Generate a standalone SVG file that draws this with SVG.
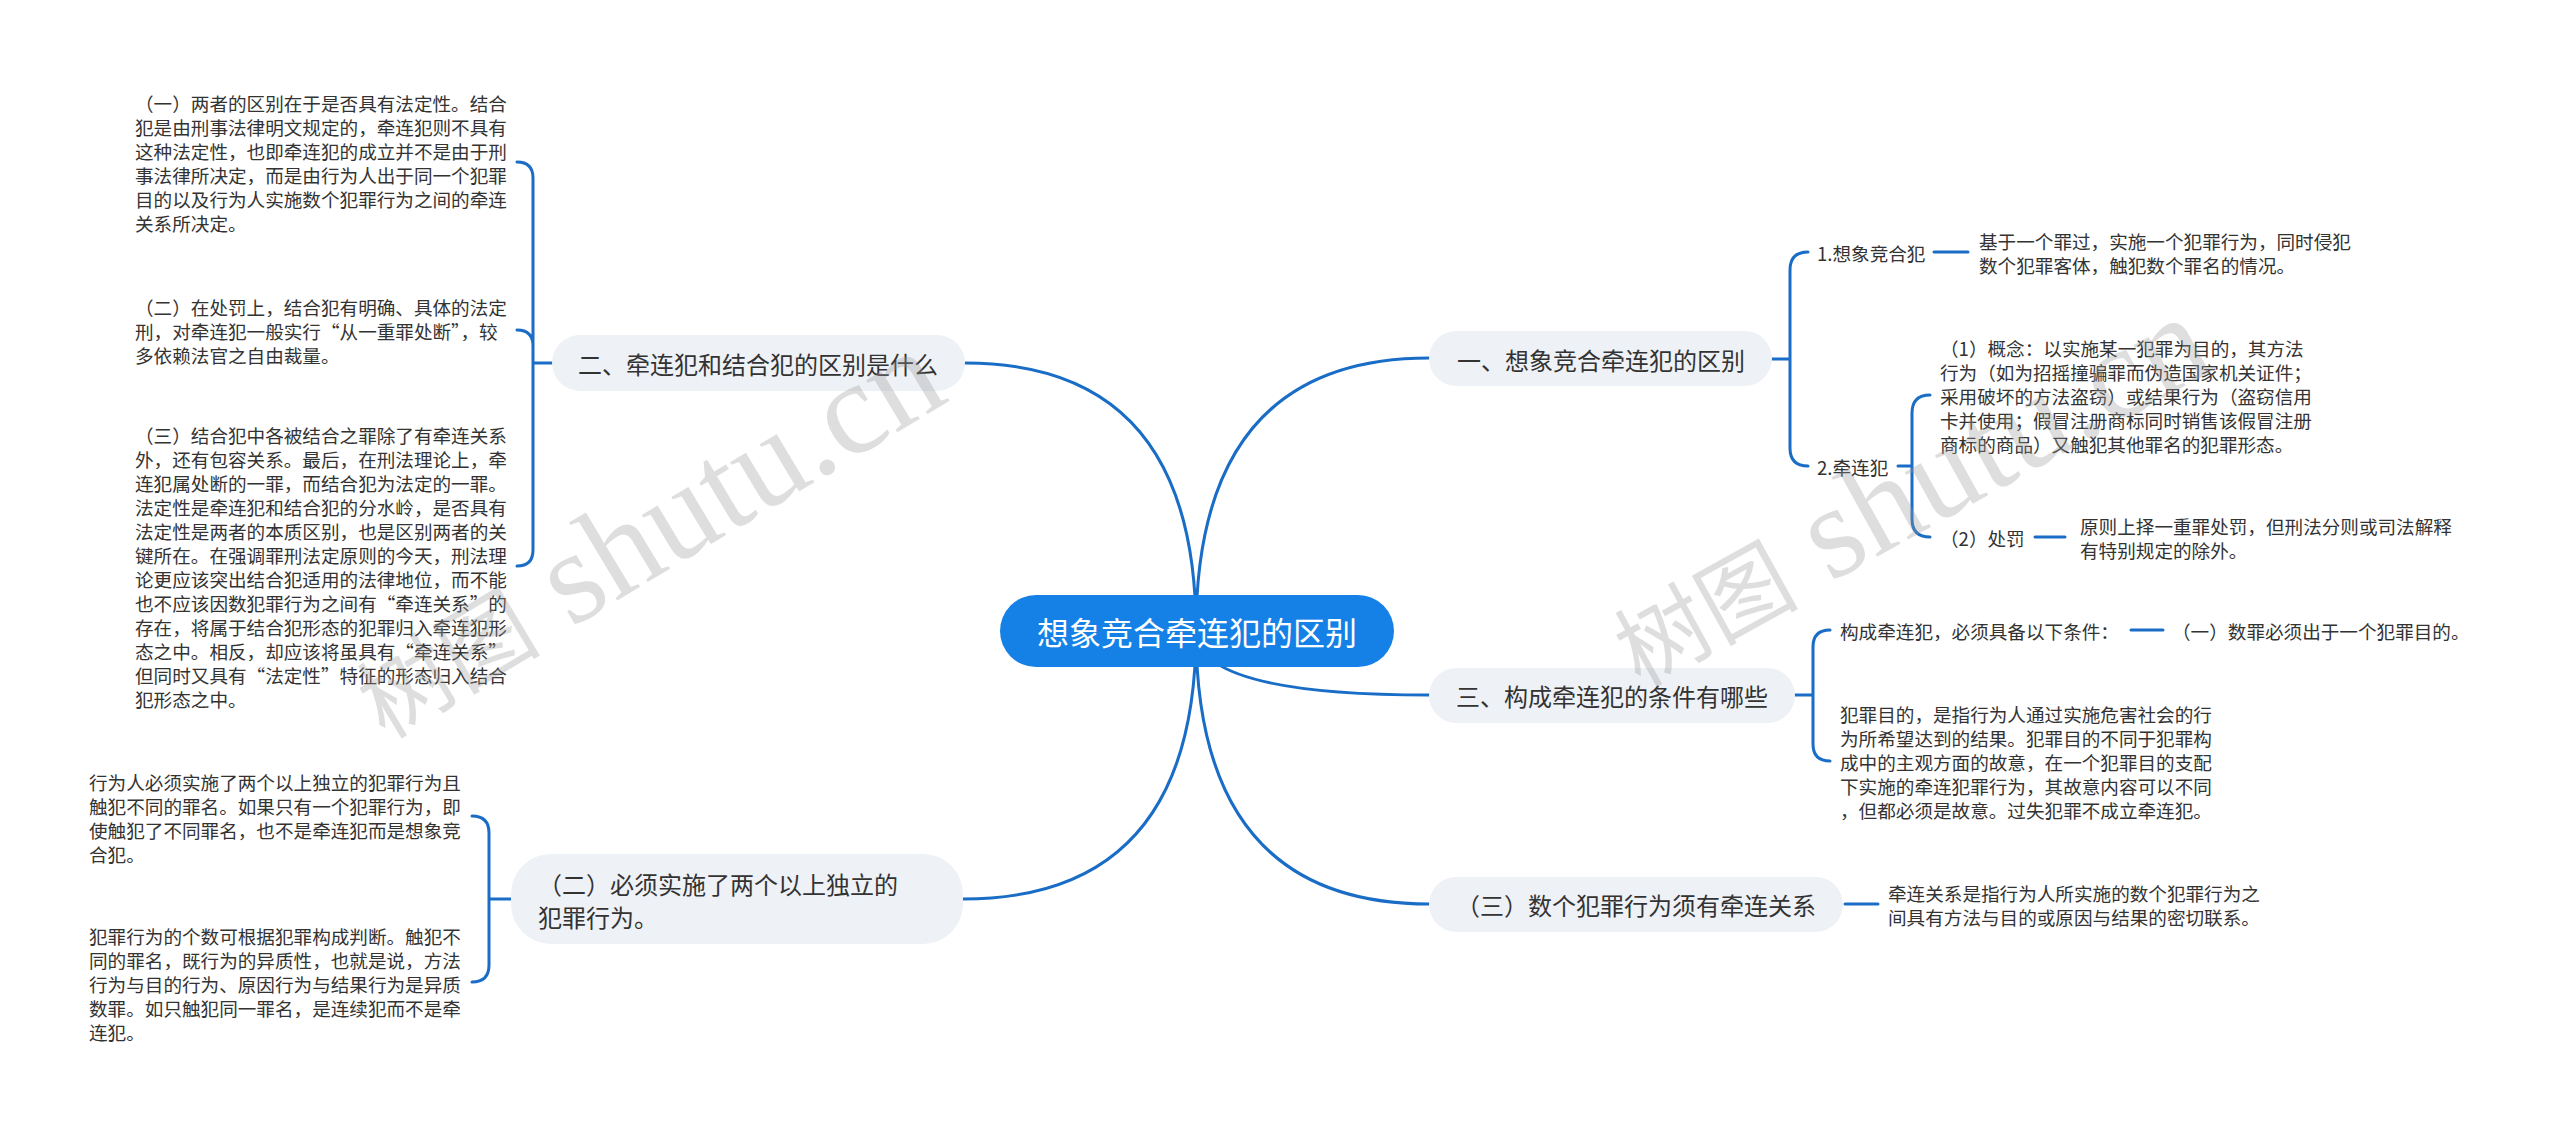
<svg xmlns="http://www.w3.org/2000/svg" width="2560" height="1131" viewBox="0 0 2560 1131">
<style>
.t{font-family:"Noto Sans CJK SC","Noto Sans",sans-serif;fill:#333;dominant-baseline:central;}
.leaf{font-size:18.6px;}
.br{font-size:24px;}
.root{font-size:32px;fill:#fff;}
.bx{fill:#eef1f5;}
.ln{fill:none;stroke:#1a6dc6;stroke-width:3;stroke-linecap:round;}
.wm{font-family:"Liberation Serif","Noto Sans CJK SC",serif;font-size:132px;fill:#999;fill-opacity:.32;}
.wc{font-family:"Noto Sans CJK SC",sans-serif;font-size:92px;}
</style>
<rect width="2560" height="1131" fill="#fff"/>
<g id="connectors">
<path class="ln" d="M1196 631 Q1196 358 1429 358"/>
<path class="ln" d="M1196 631 Q1196 363 965 363"/>
<path class="ln" d="M1196 631 Q1196 695 1429 695"/>
<path class="ln" d="M1196 631 Q1196 904 1429 904"/>
<path class="ln" d="M1196 631 Q1196 899 963 899"/>
<path class="ln" d="M1772 359 L1790 359 M1808 252 Q1790 252 1790 270 L1790 448 Q1790 466 1808 466"/>
<path class="ln" d="M1934 252 L1968 252"/>
<path class="ln" d="M1898 466 L1912 466 M1930 395 Q1912 395 1912 413 L1912 519 Q1912 537 1930 537"/>
<path class="ln" d="M2035 537 L2065 537"/>
<path class="ln" d="M1795 695 L1813 695 M1830 630 Q1813 630 1813 647 L1813 744 Q1813 761 1830 761"/>
<path class="ln" d="M2131 630 L2163 630"/>
<path class="ln" d="M1845 904 L1878 904"/>
<path class="ln" d="M552 363 L533 363 M517 162 Q533 162 533 178 L533 550 Q533 566 517 566 M517 330 Q533 330 533 346"/>
<path class="ln" d="M511 899 L489 899 M472 816 Q489 816 489 833 L489 965 Q489 982 472 982"/>
</g>
<g id="root">
<rect x="1000" y="595" width="394" height="72" rx="36" fill="#1581e6"/>
<text class="t root" x="1197" y="631" text-anchor="middle">想象竞合牵连犯的区别</text>
</g>
<g id="b1">
<rect class="bx" x="1429" y="331" width="343" height="55" rx="27.5"/>
<text class="t br" x="1457" y="359">一、想象竞合牵连犯的区别</text>
</g>
<g id="b2">
<rect class="bx" x="552" y="335" width="413" height="56" rx="28"/>
<text class="t br" x="578" y="363">二、牵连犯和结合犯的区别是什么</text>
</g>
<g id="b3">
<rect class="bx" x="1429" y="668" width="366" height="55" rx="27.5"/>
<text class="t br" x="1456" y="695.5">三、构成牵连犯的条件有哪些</text>
</g>
<g id="b4">
<rect class="bx" x="1429" y="877" width="414" height="55" rx="27.5"/>
<text class="t br" x="1456" y="904">（三）数个犯罪行为须有牵连关系</text>
</g>
<g id="b5">
<rect class="bx" x="511" y="854" width="452" height="90" rx="40"/>
<text class="t br" x="538"><tspan x="538" y="882.5">（二）必须实施了两个以上独立的</tspan><tspan x="538" y="915.5">犯罪行为。</tspan></text>
</g>
<g id="l1">
<text class="t leaf"><tspan x="135" y="102">（一）两者的区别在于是否具有法定性。结合</tspan><tspan x="135" y="126">犯是由刑事法律明文规定的，牵连犯则不具有</tspan><tspan x="135" y="150">这种法定性，也即牵连犯的成立并不是由于刑</tspan><tspan x="135" y="174">事法律所决定，而是由行为人出于同一个犯罪</tspan><tspan x="135" y="198">目的以及行为人实施数个犯罪行为之间的牵连</tspan><tspan x="135" y="222">关系所决定。</tspan></text>
</g>
<g id="l2">
<text class="t leaf"><tspan x="135" y="306">（二）在处罚上，结合犯有明确、具体的法定</tspan><tspan x="135" y="330">刑，对牵连犯一般实行“从一重罪处断”，较</tspan><tspan x="135" y="354">多依赖法官之自由裁量。</tspan></text>
</g>
<g id="l3">
<text class="t leaf"><tspan x="135" y="434">（三）结合犯中各被结合之罪除了有牵连关系</tspan><tspan x="135" y="458">外，还有包容关系。最后，在刑法理论上，牵</tspan><tspan x="135" y="482">连犯属处断的一罪，而结合犯为法定的一罪。</tspan><tspan x="135" y="506">法定性是牵连犯和结合犯的分水岭，是否具有</tspan><tspan x="135" y="530">法定性是两者的本质区别，也是区别两者的关</tspan><tspan x="135" y="554">键所在。在强调罪刑法定原则的今天，刑法理</tspan><tspan x="135" y="578">论更应该突出结合犯适用的法律地位，而不能</tspan><tspan x="135" y="602">也不应该因数犯罪行为之间有“牵连关系”的</tspan><tspan x="135" y="626">存在，将属于结合犯形态的犯罪归入牵连犯形</tspan><tspan x="135" y="650">态之中。相反，却应该将虽具有“牵连关系”</tspan><tspan x="135" y="674">但同时又具有“法定性”特征的形态归入结合</tspan><tspan x="135" y="698">犯形态之中。</tspan></text>
</g>
<g id="l4">
<text class="t leaf"><tspan x="89" y="780.5">行为人必须实施了两个以上独立的犯罪行为且</tspan><tspan x="89" y="804.5">触犯不同的罪名。如果只有一个犯罪行为，即</tspan><tspan x="89" y="828.5">使触犯了不同罪名，也不是牵连犯而是想象竞</tspan><tspan x="89" y="852.5">合犯。</tspan></text>
</g>
<g id="l5">
<text class="t leaf"><tspan x="89" y="934.5">犯罪行为的个数可根据犯罪构成判断。触犯不</tspan><tspan x="89" y="958.5">同的罪名，既行为的异质性，也就是说，方法</tspan><tspan x="89" y="982.5">行为与目的行为、原因行为与结果行为是异质</tspan><tspan x="89" y="1006.5">数罪。如只触犯同一罪名，是连续犯而不是牵</tspan><tspan x="89" y="1030.5">连犯。</tspan></text>
</g>
<g id="r1">
<text class="t leaf" x="1817" y="252">1.想象竞合犯</text>
</g>
<g id="r1a">
<text class="t leaf"><tspan x="1979" y="240">基于一个罪过，实施一个犯罪行为，同时侵犯</tspan><tspan x="1979" y="264">数个犯罪客体，触犯数个罪名的情况。</tspan></text>
</g>
<g id="r2">
<text class="t leaf" x="1817" y="466">2.牵连犯</text>
</g>
<g id="r2a">
<text class="t leaf"><tspan x="1940" y="347">（1）概念：以实施某一犯罪为目的，其方法</tspan><tspan x="1940" y="371">行为（如为招摇撞骗罪而伪造国家机关证件；</tspan><tspan x="1940" y="395">采用破坏的方法盗窃）或结果行为（盗窃信用</tspan><tspan x="1940" y="419">卡并使用；假冒注册商标同时销售该假冒注册</tspan><tspan x="1940" y="443">商标的商品）又触犯其他罪名的犯罪形态。</tspan></text>
</g>
<g id="r2b">
<text class="t leaf" x="1940" y="537">（2）处罚</text>
</g>
<g id="r2b1">
<text class="t leaf"><tspan x="2080" y="525">原则上择一重罪处罚，但刑法分则或司法解释</tspan><tspan x="2080" y="549">有特别规定的除外。</tspan></text>
</g>
<g id="r3a">
<text class="t leaf" x="1840" y="630">构成牵连犯，必须具备以下条件：</text>
</g>
<g id="r3a1">
<text class="t leaf" x="2172" y="630">（一）数罪必须出于一个犯罪目的。</text>
</g>
<g id="r3b">
<text class="t leaf"><tspan x="1840" y="713">犯罪目的，是指行为人通过实施危害社会的行</tspan><tspan x="1840" y="737">为所希望达到的结果。犯罪目的不同于犯罪构</tspan><tspan x="1840" y="761">成中的主观方面的故意，在一个犯罪目的支配</tspan><tspan x="1840" y="785">下实施的牵连犯罪行为，其故意内容可以不同</tspan><tspan x="1840" y="809">，但都必须是故意。过失犯罪不成立牵连犯。</tspan></text>
</g>
<g id="r4a">
<text class="t leaf"><tspan x="1888" y="892">牵连关系是指行为人所实施的数个犯罪行为之</tspan><tspan x="1888" y="916">间具有方法与目的或原因与结果的密切联系。</tspan></text>
</g>
<g id="watermarks">
<text class="wm" transform="translate(385 740) rotate(-31)"><tspan class="wc">树图</tspan> shutu.cn</text>
<text class="wm" transform="translate(1640 688) rotate(-29)"><tspan class="wc">树图</tspan> shutu.cn</text>
</g>
</svg>
